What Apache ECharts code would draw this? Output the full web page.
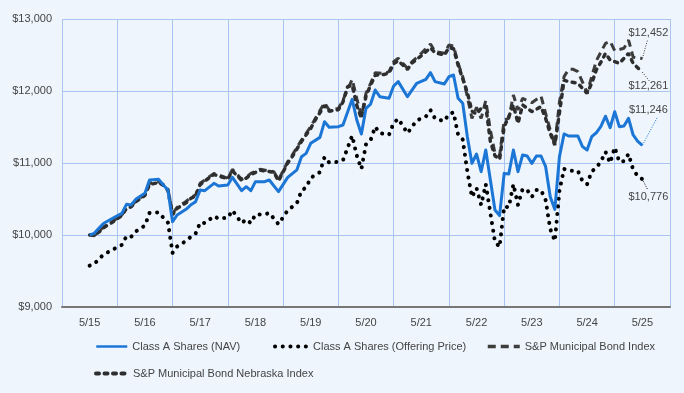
<!DOCTYPE html>
<html><head><meta charset="utf-8">
<script src="https://cdn.jsdelivr.net/npm/echarts@6/dist/echarts.min.js"></script>
<style>html,body{margin:0;padding:0;background:#EEF5FD}#c{width:684px;height:393px}</style>
</head><body><div id="c"></div>
<script>
// x: months since 5/15 (0 = 5/15, 120 = 5/25)
const yearLabels = ['5/15','5/16','5/17','5/18','5/19','5/20','5/21','5/22','5/23','5/24','5/25'];
const seriesNames = ['Class A Shares (NAV)','Class A Shares (Offering Price)','S&P Municipal Bond Index','S&P Municipal Bond Nebraska Index'];

const navData = [[0,10000],[1,10023],[2,10093],[3,10160],[5,10232],[7,10301],[8,10426],[9,10417],[10,10495],[12,10580],[13,10764],[15,10773],[16,10694],[17,10625],[18,10185],[19,10278],[21,10360],[22,10420],[23,10463],[24,10625],[25,10616],[27,10718],[28,10681],[30,10694],[31,10801],[33,10616],[34,10671],[35,10616],[36,10741],[38,10741],[39,10764],[41,10602],[43,10801],[45,10905],[46,11088],[47,11134],[48,11273],[50,11356],[51,11574],[52,11496],[54,11505],[55,11528],[57,11884],[58,11597],[59,11403],[60,11759],[61,11819],[62,12014],[63,11921],[65,11898],[66,12069],[67,12130],[69,11921],[71,12107],[73,12162],[74,12255],[75,12130],[77,12097],[78,12199],[79,12222],[80,11898],[81,11829],[82,11366],[83,10995],[84,11125],[85,10880],[86,11180],[88,10347],[89,10270],[90,10856],[91,10847],[92,11180],[93,10880],[94,11111],[95,11097],[96,10995],[97,11097],[98,11097],[99,10949],[100,10532],[101,10356],[102,11088],[103,11403],[104,11375],[106,11375],[107,11227],[108,11180],[109,11366],[110,11420],[111,11510],[112,11650],[113,11490],[114,11713],[115,11505],[116,11514],[117,11620],[118,11389],[119,11300],[120,11246]];

const offerData = [[0,9575],[1,9597],[2,9664],[3,9728],[5,9797],[7,9863],[8,9983],[9,9974],[10,10049],[12,10130],[13,10306],[15,10315],[16,10240],[17,10173],[18,9752],[19,9841],[21,9920],[22,9977],[23,10018],[24,10173],[25,10165],[27,10262],[28,10227],[30,10240],[31,10342],[33,10165],[34,10217],[35,10165],[36,10285],[38,10285],[39,10307],[41,10151],[43,10342],[45,10442],[46,10617],[47,10661],[48,10794],[50,10873],[51,11082],[52,11007],[54,11016],[55,11038],[57,11379],[58,11104],[59,10918],[60,11259],[61,11317],[62,11503],[63,11414],[65,11393],[66,11556],[67,11615],[69,11414],[71,11592],[73,11645],[74,11734],[75,11614],[77,11583],[78,11680],[79,11703],[80,11392],[81,11326],[82,10883],[83,10528],[84,10652],[85,10418],[86,10705],[88,9907],[89,9834],[90,10395],[91,10386],[92,10705],[93,10418],[94,10639],[95,10625],[96,10528],[97,10625],[98,10625],[99,10484],[100,10084],[101,9916],[102,10617],[103,10918],[104,10892],[106,10892],[107,10750],[108,10705],[109,10883],[110,10935],[111,11021],[112,11155],[113,11002],[114,11215],[115,11016],[116,11025],[117,11126],[118,10905],[119,10820],[120,10776]];

const spMuniData = [[0,10000],[1,9990],[2,10050],[3,10110],[5,10190],[7,10280],[8,10380],[9,10400],[10,10470],[12,10560],[13,10720],[15,10740],[16,10700],[17,10640],[18,10300],[19,10384],[21,10470],[22,10523],[23,10556],[24,10718],[25,10764],[27,10856],[28,10833],[30,10787],[31,10912],[33,10773],[34,10801],[35,10856],[37,10912],[40,10880],[41,10764],[43,11018],[44,11110],[46,11319],[48,11505],[49,11620],[51,11838],[52,11736],[54,11759],[55,11875],[57,12162],[58,11898],[59,11653],[60,11968],[61,12107],[62,12255],[64,12245],[65,12268],[66,12407],[67,12454],[69,12315],[70,12407],[72,12523],[74,12653],[75,12546],[77,12523],[78,12639],[79,12625],[80,12384],[81,12199],[82,11921],[83,11620],[84,11773],[85,11620],[86,11866],[87,11458],[88,11134],[89,11100],[90,11597],[91,11620],[92,11944],[93,11736],[94,11898],[96,11838],[98,11930],[99,11690],[100,11458],[101,11250],[102,11850],[103,12200],[104,12301],[105,12301],[106,12269],[108,11977],[109,12199],[110,12420],[112,12662],[113,12690],[114,12560],[116,12593],[117,12708],[118,12470],[119,12460],[120,12452]];

const nebraskaData = [[0,10000],[1,10000],[2,10040],[3,10100],[5,10180],[7,10270],[8,10370],[9,10390],[10,10460],[12,10550],[13,10700],[15,10730],[16,10690],[17,10620],[18,10280],[19,10370],[21,10450],[22,10510],[23,10540],[24,10700],[25,10750],[27,10840],[28,10820],[30,10780],[31,10890],[33,10760],[34,10790],[35,10840],[37,10900],[40,10870],[41,10750],[43,11000],[44,11090],[46,11300],[48,11480],[49,11600],[51,11800],[52,11720],[54,11740],[55,11850],[56,12060],[57,12080],[58,11800],[59,11620],[60,11930],[61,12080],[62,12220],[64,12230],[65,12250],[66,12380],[67,12420],[69,12300],[70,12390],[72,12490],[74,12600],[75,12530],[77,12500],[78,12600],[79,12590],[80,12360],[81,12170],[82,11980],[83,11720],[84,11680],[85,11760],[86,11800],[87,11300],[88,11100],[89,11050],[90,11505],[91,11643],[92,11806],[93,11551],[94,11806],[96,11713],[98,11782],[99,11620],[100,11412],[101,11250],[102,11700],[103,12150],[104,12130],[106,12107],[108,11968],[109,12107],[110,12292],[111,12400],[112,12523],[113,12431],[115,12384],[117,12523],[118,12384],[120,12261]];

const chart = echarts.init(document.getElementById('c'), null, {renderer:'canvas'});
const FONT = 'Liberation Sans, Arial, sans-serif';
const colors = ['#1B76D6','#000000','#3D3D3D','#2E2E2E'];

function legendFor(i, left, top, w, lw){
  return {data:[seriesNames[i]], left:left, top:top, padding:0, itemWidth:w, itemHeight:10,
    itemStyle:{opacity:0, borderWidth:0},
    lineStyle:{width:lw},
    textStyle:{fontFamily:FONT, fontSize:11, color:'#444'}, selectedMode:false};
}

chart.setOption({
  backgroundColor:'#EEF5FD',
  animation:false,
  grid:{left:62, right:14, top:19, bottom:86, containLabel:false},
  legend:[legendFor(0,95,341,31,2.5), legendFor(1,273,341,33,4), legendFor(2,486,341,32,3.5), legendFor(3,94,368,32,4)],
  xAxis:[
    {type:'category', data:yearLabels, boundaryGap:true,
     axisLine:{show:true, lineStyle:{color:'#777', width:2}},
     axisTick:{show:false},
     axisLabel:{color:'#444', fontFamily:FONT, fontSize:11, margin:10},
     splitLine:{show:true, lineStyle:{color:'#A9C5EF', width:1}}},
    {type:'value', min:-6, max:126, show:false}
  ],
  yAxis:{type:'value', min:9000, max:13000, interval:1000,
    axisLine:{show:false}, axisTick:{show:false},
    axisLabel:{color:'#444', fontFamily:FONT, fontSize:11, margin:10,
      formatter:v=>'$'+v.toLocaleString('en-US')},
    splitLine:{lineStyle:{color:'#A9C5EF', width:1}}},
  series:[
    {name:seriesNames[0], type:'line', xAxisIndex:1, data:navData, symbol:'none', z:6,
     lineStyle:{color:colors[0], width:3, join:'round'}, itemStyle:{color:colors[0]}},
    {name:seriesNames[1], type:'line', xAxisIndex:1, data:offerData, symbol:'none', z:4,
     lineStyle:{color:colors[1], width:4, type:[0.1,7.6], cap:'round'}, itemStyle:{color:colors[1]}},
    {name:seriesNames[2], type:'line', xAxisIndex:1, data:spMuniData, symbol:'none', z:3,
     lineStyle:{color:colors[2], width:3, type:[8,5]}, itemStyle:{color:colors[2]}},
    {name:seriesNames[3], type:'line', xAxisIndex:1, data:nebraskaData, symbol:'none', z:3,
     lineStyle:{color:colors[3], width:3.5, type:[3,5.5], cap:'round'}, itemStyle:{color:colors[3]}}
  ]
});

// end-value annotations with dotted leader lines
const annots = [
  {s:2, data:spMuniData, tx:6, ty:-25, lx:5, ly:-18},
  {s:3, data:nebraskaData, tx:6, ty:14, lx:8, ly:10},
  {s:0, data:navData, tx:6, ty:-35, lx:15, ly:-28},
  {s:1, data:offerData, tx:6, ty:18, lx:5, ly:10}
];
const g = [];
annots.forEach(a=>{
  const last = a.data[a.data.length-1];
  const p = chart.convertToPixel({seriesIndex:a.s}, last);
  g.push({type:'line', silent:true, z:10,
    shape:{x1:p[0], y1:p[1], x2:p[0]+a.lx, y2:p[1]+a.ly},
    style:{stroke:colors[a.s], lineWidth:1, lineDash:[1,1.5]}});
  g.push({type:'text', silent:true, z:10, x:p[0]+a.tx, y:p[1]+a.ty,
    style:{text:'$'+last[1].toLocaleString('en-US'), font:'11px '+FONT, fill:'#444', align:'center', verticalAlign:'middle'}});
});
chart.setOption({graphic:g});
</script>
</body></html>
